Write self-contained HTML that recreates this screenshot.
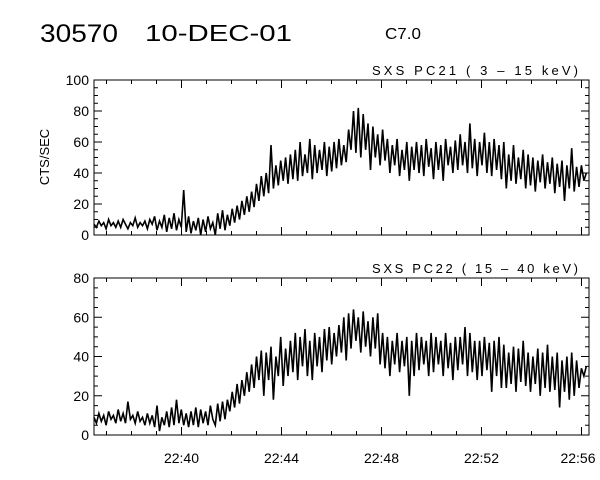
<!DOCTYPE html>
<html><head><meta charset="utf-8"><style>
body{margin:0;background:#fff;}
svg{display:block;font-family:"Liberation Sans",sans-serif;}
</style></head><body>
<svg id="chart" width="600" height="480">
<text x="40" y="42" font-size="25" textLength="78" lengthAdjust="spacingAndGlyphs">30570</text>
<text x="145" y="41" font-size="23" textLength="147" lengthAdjust="spacingAndGlyphs">10-DEC-01</text>
<text x="385" y="39" font-size="16" textLength="36" lengthAdjust="spacingAndGlyphs">C7.0</text>
<text transform="translate(49,157) rotate(-90)" text-anchor="middle" font-size="13">CTS/SEC</text>
</svg>
<script>
const tStart = 36.5; // minutes after 22:00
const tStep = 0.097;
const xTickLabels = ["22:40","22:44","22:48","22:52","22:56"];
const xTickMinutes = [40,44,48,52,56];
const pc21Values = [7,5,9,6,8,4,10,6,8,5, 9,5,10,7,4,8,6,11,5,8, 6,9,4,10,7,12,3,9,5,13, 2,11,4,14,3,10,5,29,2,12,
1,9,3,11,0,10,2,12,4,8, 0,14,4,16,3,13,6,17,8,19, 10,22,13,25,15,28,18,33,22,38, 25,40,27,58,30,45,32,48,35,50,
33,52,36,55,35,60,38,52,40,62, 36,58,40,55,42,60,38,57,41,60, 43,62,45,58,47,68,55,80,53,82, 50,78,55,72,42,70,50,65,45,68,
48,62,40,58,45,62,38,55,42,60, 35,57,42,60,40,58,38,62,44,56, 36,60,42,58,35,62,45,57,40,61, 42,65,45,60,40,72,43,62,38,60,
45,66,40,60,38,62,42,58,36,60, 30,52,35,58,33,50,36,55,30,52, 32,50,28,48,34,52,30,47,33,50, 27,46,31,48,22,45,30,56,28,44, 31,45,35,40];
const pc22Values = [9,6,11,7,10,5,12,8,10,6, 13,7,11,6,17,8,10,6,12,7, 9,5,11,6,10,4,15,2,9,5, 12,4,14,5,18,6,13,5,11,4,
12,5,14,4,13,6,12,5,15,8, 5,16,7,17,8,18,12,22,14,26, 16,28,20,32,22,36,24,40,28,43, 20,42,28,45,18,40,30,50,25,44,
30,48,32,52,28,50,35,54,30,48, 28,52,35,50,32,54,38,55,36,52, 40,56,42,60,38,62,44,64,48,60, 42,63,45,58,40,60,44,62,36,52,
34,50,30,48,36,52,32,48,35,50, 20,48,30,52,33,50,36,48,30,52, 32,50,36,48,30,52,34,47,28,50, 33,50,36,55,30,52,32,48,28,48,
30,50,33,47,22,48,30,50,24,46, 24,42,26,45,22,44,27,48,25,42, 22,40,26,44,20,42,24,46,22,40, 23,42,14,38,22,40,18,42,20,38, 24,34,30,35];
const pc21Ticks = [0,20,40,60,80,100];
const pc22Ticks = [0,20,40,60,80];

const svg = document.getElementById('chart');
const NS = 'http://www.w3.org/2000/svg';
const X0 = 94, X1 = 589, TMIN = 36.5, TMAX = 56.3;
function xs(t){ return X0 + (t - TMIN) / (TMAX - TMIN) * (X1 - X0); }
function mk(tag, attrs){ const e = document.createElementNS(NS, tag); for (const k in attrs) e.setAttribute(k, attrs[k]); svg.appendChild(e); return e; }

function panel(name, top, bot, ymax, ticks, minorStep, values, title, showX){
  const ys = v => bot - v / ymax * (bot - top);
  const frame = mk('rect', {x:X0, y:top, width:X1-X0, height:bot-top, fill:'none', stroke:'#000', 'stroke-width':1});
  
  
  let d = '';
  for (let v = 0; v <= ymax + 0.01; v += minorStep){
    const major = ticks.includes(v), L = major ? 8 : 4, y = ys(v);
    d += `M${X0},${y}h${L}M${X1},${y}h${-L}`;
  }
  for (let m = 37; m <= 56; m++){
    const major = xTickMinutes.includes(m), L = major ? 8 : 4, x = xs(m);
    d += `M${x},${bot}v${-L}M${x},${top}v${L}`;
  }
  const tk = mk('path', {d:d, stroke:'#000', 'stroke-width':1, fill:'none'});
  
  
  ticks.forEach(v => {
    const t = mk('text', {x:X0-5, y:ys(v)+5, 'text-anchor':'end', 'font-size':14});
    t.textContent = v;
    
    
  });
  const ti = mk('text', {x:372, y:top-5, 'font-size':13, textLength:206, lengthAdjust:'spacing', 'xml:space':'preserve'});
  ti.textContent = title;
  
  
  let p = '';
  values.forEach((v, i) => { p += (i ? 'L' : 'M') + xs(tStart + i * tStep).toFixed(1) + ',' + ys(v).toFixed(1); });
  const line = mk('path', {d:p, stroke:'#000', 'stroke-width':1.6, fill:'none', 'stroke-linejoin':'miter'});
  
  
  if (showX){
    xTickLabels.forEach((lab, i) => {
      const t = mk('text', {x:Math.min(xs(xTickMinutes[i]), 578), y:bot+28, 'text-anchor':'middle', 'font-size':14});
      t.textContent = lab;
      
      
    });
  }
}
panel('pc21-panel', 80, 235, 100, pc21Ticks, 5, pc21Values, 'SXS PC21  (  3 \u2013 15 keV)', false);
panel('pc22-panel', 278, 435, 80, pc22Ticks, 5, pc22Values, 'SXS PC22  ( 15 \u2013 40 keV)', true);
</script>
</body></html>
